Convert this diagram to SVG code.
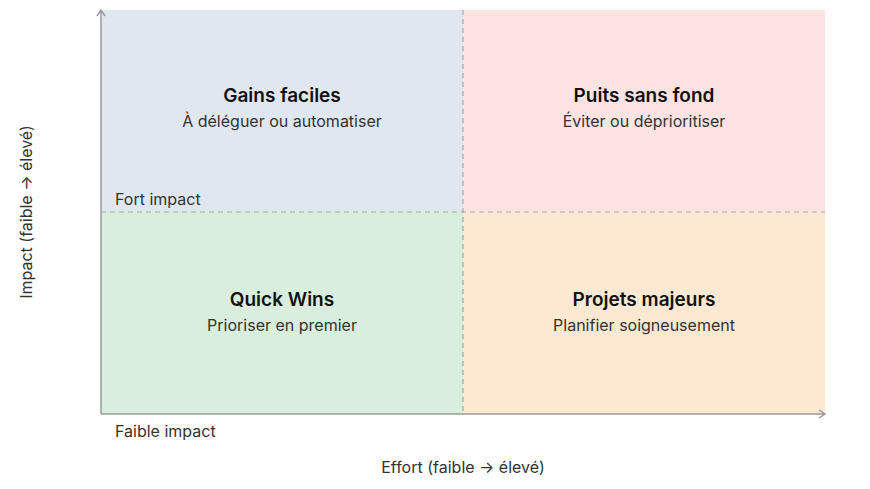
<svg xmlns="http://www.w3.org/2000/svg" width="870" height="489" viewBox="0 0 870 489">
<style>
.t{font-family:Inter,"Liberation Sans",sans-serif;font-size:19px;font-weight:600;fill:#111;text-anchor:middle}
.s{font-family:Inter,"Liberation Sans",sans-serif;font-size:16px;fill:#333;text-anchor:middle}
.l{font-family:Inter,"Liberation Sans",sans-serif;font-size:16px;fill:#333}
.d{stroke:#a8a8a8;stroke-width:1.2;stroke-dasharray:5 4;fill:none}
.a{stroke:#9a9a9a;stroke-width:1.5;fill:none}
</style>
<rect width="870" height="489" fill="#fff"/>
<g id="q-gains"><rect x="101" y="10" width="362" height="202" fill="#e1e7f1"/><text class="t" x="282" y="102">Gains faciles</text><text class="s" x="282" y="127">À déléguer ou automatiser</text></g>
<g id="q-puits"><rect x="463" y="10" width="362" height="202" fill="#fde3e1"/><text class="t" x="644" y="102">Puits sans fond</text><text class="s" x="644" y="127">Éviter ou déprioritiser</text></g>
<g id="q-quick"><rect x="101" y="212" width="362" height="202" fill="#d9eedd"/><text class="t" x="282" y="306">Quick Wins</text><text class="s" x="282" y="331">Prioriser en premier</text></g>
<g id="q-projets"><rect x="463" y="212" width="362" height="202" fill="#fde8d2"/><text class="t" x="644" y="306">Projets majeurs</text><text class="s" x="644" y="331">Planifier soigneusement</text></g>
<g id="connectors">
<line class="d" x1="463" y1="10" x2="463" y2="414"/>
<line class="d" x1="101" y1="212" x2="825" y2="212"/>
<path class="a" d="M101 414V10M97 16L101 10L105 16"/>
<path class="a" d="M101 414H825M819 410L825 414L819 418"/>
</g>
<text class="l" x="115" y="205">Fort impact</text>
<text class="l" x="115" y="437">Faible impact</text>
<text class="l" x="463" y="473" text-anchor="middle">Effort (faible → élevé)</text>
<text class="l" transform="translate(32 212) rotate(-90)" text-anchor="middle">Impact (faible → élevé)</text>
</svg>
